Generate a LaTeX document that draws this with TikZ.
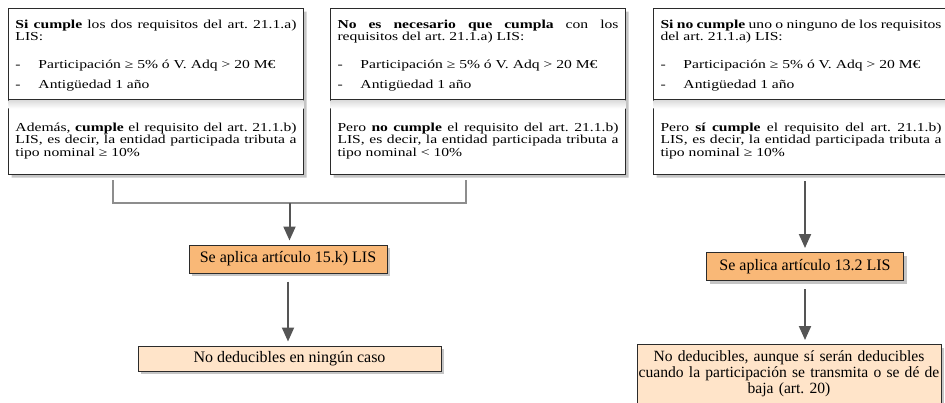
\documentclass[tikz,border=0pt]{standalone}
\usepackage{fontspec}
\setmainfont{Liberation Serif}
\newfontfamily\reqfont[FakeStretch=1.28]{Liberation Serif}
\usetikzlibrary{calc,positioning,shapes.multipart,shadows,arrows.meta}

\definecolor{boxline}{HTML}{2B2B2B}
\definecolor{orangefill}{HTML}{F9B877}
\definecolor{peachfill}{HTML}{FFE4C9}
\definecolor{arrowgray}{HTML}{555555}
\definecolor{bracketgray}{HTML}{8D8D8D}

\setlength{\parindent}{0pt}
\hyphenpenalty=10000
\frenchspacing
\newcommand{\reqitem}[1]{\makebox[23pt][l]{-}#1}
\newcommand{\reqpart}[2]{\parbox[b][#1][t]{281pt}{#2}}

\begin{document}
\begin{tikzpicture}[x=1pt,y=-1pt,
  reqbox/.style={rectangle split,rectangle split parts=2,draw=boxline,line width=1pt,fill=white,
    inner xsep=7pt,inner ysep=4pt,
    font={\reqfont\fontsize{12.2}{12.5}\selectfont},
    drop shadow={shadow xshift=3pt,shadow yshift=-3pt,fill=black!45}},
  lawbox/.style={rectangle,draw=boxline,line width=1pt,fill=orangefill,minimum height=28pt,
    font={\fontsize{16}{16}\selectfont},
    drop shadow={shadow xshift=3pt,shadow yshift=-3pt,fill=black!45}},
  endbox/.style={rectangle,draw=boxline,line width=1pt,fill=peachfill,align=center,
    font={\fontsize{15.6}{16}\selectfont},
    drop shadow={shadow xshift=3pt,shadow yshift=-3pt,fill=black!45}},
  flow/.style={draw=arrowgray,line width=2pt,-{Triangle[length=14pt,width=12pt]},shorten >=4pt},
  bracket/.style={draw=bracketgray,line width=2pt}]
  \useasboundingbox (0,0) rectangle (945,402);

  \node[reqbox,anchor=north west] (b1) at (8,8) {
    \reqpart{82pt}{\rule{0pt}{15pt}\textbf{Si cumple} los dos requisitos del art. 21.1.a)\linebreak LIS:\par
    \vspace{15pt}\reqitem{Participación ≥ 5\% ó V. Adq > 20 M€}\par
    \vspace{7.5pt}\reqitem{Antigüedad 1 año}}
    \nodepart{two}
    \reqpart{66pt}{\rule{0pt}{27pt}Además, \textbf{cumple} el requisito del art. 21.1.b)\linebreak
    LIS, es decir, la entidad participada tributa a\linebreak
    tipo nominal ≥ 10\%}
  };

  \node[reqbox,anchor=north west] (b2) at (330,8) {
    \reqpart{82pt}{\rule{0pt}{15pt}\textbf{No es necesario que cumpla} con los\linebreak requisitos del art. 21.1.a) LIS:\par
    \vspace{15pt}\reqitem{Participación ≥ 5\% ó V. Adq > 20 M€}\par
    \vspace{7.5pt}\reqitem{Antigüedad 1 año}}
    \nodepart{two}
    \reqpart{66pt}{\rule{0pt}{27pt}Pero \textbf{no cumple} el requisito del art. 21.1.b)\linebreak
    LIS, es decir, la entidad participada tributa a\linebreak
    tipo nominal < 10\%}
  };

  \node[reqbox,anchor=north west] (b3) at (653,8) {
    \reqpart{82pt}{\rule{0pt}{15pt}\textbf{Si no cumple} uno o ninguno de los requisitos\linebreak del art. 21.1.a) LIS:\par
    \vspace{15pt}\reqitem{Participación ≥ 5\% ó V. Adq > 20 M€}\par
    \vspace{7.5pt}\reqitem{Antigüedad 1 año}}
    \nodepart{two}
    \reqpart{66pt}{\rule{0pt}{27pt}Pero \textbf{sí cumple} el requisito del art. 21.1.b)\linebreak
    LIS, es decir, la entidad participada tributa a\linebreak
    tipo nominal ≥ 10\%}
  };

  \shade[top color=black!14,bottom color=white] ($(b1.text split west)+(0.5,0.6)$) rectangle ($(b1.text split east)+(-0.5,9)$);
  \shade[top color=black!14,bottom color=white] ($(b2.text split west)+(0.5,0.6)$) rectangle ($(b2.text split east)+(-0.5,9)$);
  \shade[top color=black!14,bottom color=white] ($(b3.text split west)+(0.5,0.6)$) rectangle ($(b3.text split east)+(-0.5,9)$);

  \node[lawbox,minimum width=198pt] (a1) at (288,259) {Se aplica artículo 15.k) LIS};
  \node[endbox,font={\fontsize{16}{16}\selectfont},minimum width=303pt,minimum height=25pt] (r1) at (289.5,358.5) {No deducibles en ningún caso};

  \node[lawbox,minimum width=197pt] (a2) at (805,266.5) {Se aplica artículo 13.2 LIS};
  \node[endbox,text width=302pt,inner xsep=1pt,inner ysep=6pt,anchor=north] (r2) at (789,344) {
    No deducibles, aunque sí serán deducibles\\
    cuando la participación se transmita o se dé de\\
    baja (art. 20)\rule[-18pt]{0pt}{18pt}
  };

  \coordinate (k1) at (113,203);
  \coordinate (k2) at (466,203);
  \coordinate (k) at ($(k1)!0.5!(k2)$);
  \draw[bracket] ($(k1 |- b1.south)+(0,5)$) -- (k1) -- (k2) -- ($(k2 |- b2.south)+(0,5)$);
  \draw[flow] (k) -- (k |- a1.north);
  \draw[flow,shorten <=8pt] (a1.south) -- (a1.south |- r1.north);
  \draw[flow,shorten <=6pt] (b3.south -| a2.north) -- (a2.north);
  \draw[flow,shorten <=8pt] (a2.south) -- (a2.south |- r2.north);
\end{tikzpicture}
\end{document}
